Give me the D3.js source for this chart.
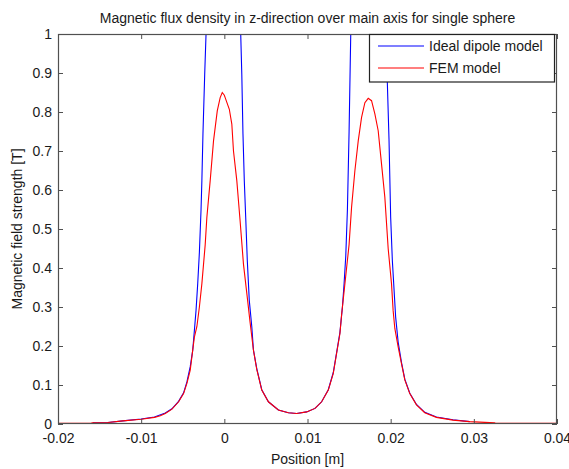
<!DOCTYPE html>
<html>
<head>
<meta charset="utf-8">
<script src="https://cdn.jsdelivr.net/npm/d3@7/dist/d3.min.js"></script>
<style>
  html, body { margin: 0; padding: 0; background: #fff; }
  svg { display: block; font-family: "Liberation Sans", Arial, sans-serif; }
</style>
</head>
<body>
<svg id="chart" width="569" height="469"></svg>
<script>
// Axis ticks and their labels
const xTicks = [-0.02, -0.01, 0, 0.01, 0.02, 0.03, 0.04];
const xTickLabels = ["-0.02", "-0.01", "0", "0.01", "0.02", "0.03", "0.04"];
const yTicks = [0, 0.1, 0.2, 0.3, 0.4, 0.5, 0.6, 0.7, 0.8, 0.9, 1];
const yTickLabels = ["0", "0.1", "0.2", "0.3", "0.4", "0.5", "0.6", "0.7", "0.8", "0.9", "1"];

// Ideal dipole model: position [m] and field [T]
const dipoleX = [-0.0158, -0.014, -0.0122, -0.010, -0.0084, -0.0071, -0.0063, -0.0055, -0.0049, -0.0045,
  -0.0041, -0.0038, -0.0036, -0.0034, -0.0032, -0.0030, -0.0028, -0.0027, -0.00257, -0.00236,
  -0.0022, -0.0018, 0.0016, 0.00197, 0.0021, 0.00224, 0.0024, 0.00257, 0.00276, 0.0030,
  0.0033, 0.0035, 0.0039, 0.0045, 0.0053, 0.0065, 0.0077, 0.0087, 0.0099, 0.0109,
  0.0117, 0.0125, 0.0131, 0.0135, 0.0139, 0.0142, 0.0144, 0.0146, 0.0148, 0.0150,
  0.0152, 0.0156, 0.0190, 0.0194, 0.0196, 0.0198, 0.0200, 0.0202, 0.0206, 0.0209,
  0.0213, 0.0217, 0.0223, 0.0231, 0.0241, 0.0255, 0.0275, 0.0295];
const dipoleY = [0.003, 0.004, 0.008, 0.013, 0.018, 0.028, 0.039, 0.058, 0.080, 0.108,
  0.147, 0.189, 0.240, 0.292, 0.360, 0.440, 0.550, 0.624, 0.744, 0.897,
  1.0, 1.8, 1.8, 1.0, 0.897, 0.744, 0.624, 0.530, 0.420, 0.317,
  0.250, 0.190, 0.142, 0.088, 0.057, 0.036, 0.029, 0.027, 0.031, 0.040,
  0.057, 0.088, 0.132, 0.183, 0.235, 0.300, 0.360, 0.430, 0.550, 0.750,
  1.0, 1.8, 1.8, 1.0, 0.875, 0.730, 0.530, 0.420, 0.274, 0.210,
  0.158, 0.115, 0.079, 0.050, 0.030, 0.018, 0.011, 0.006];

// FEM model: position [m] and field [T]
const femX = [-0.020, -0.016, -0.0159, -0.014, -0.0122, -0.010, -0.0084, -0.0077, -0.0071, -0.0063,
  -0.0055, -0.0049, -0.0045, -0.0041, -0.00385, -0.0036, -0.0033, -0.0030, -0.0027, -0.0023,
  -0.0021, -0.0017, -0.0013, -0.00085, -0.0005, -0.00025, 0.0000, 0.0001, 0.0006, 0.0009,
  0.0011, 0.0015, 0.0019, 0.0023, 0.0028, 0.0031, 0.0035, 0.0039, 0.0045, 0.0053,
  0.0065, 0.0077, 0.0087, 0.0099, 0.0109, 0.0117, 0.0125, 0.0131, 0.0135, 0.0139,
  0.0141, 0.0144, 0.0147, 0.0150, 0.0153, 0.0157, 0.0161, 0.0165, 0.0169, 0.0173,
  0.0177, 0.0181, 0.0185, 0.0189, 0.0193, 0.0197, 0.0201, 0.0203, 0.0205, 0.0209,
  0.0213, 0.0217, 0.0223, 0.0231, 0.0241, 0.0255, 0.0275, 0.0295, 0.0325, 0.0326, 0.040];
const femY = [0.002, 0.002, 0.003, 0.004, 0.008, 0.012, 0.017, 0.021, 0.027, 0.038,
  0.057, 0.078, 0.104, 0.138, 0.181, 0.223, 0.250, 0.300, 0.360, 0.460,
  0.530, 0.624, 0.726, 0.803, 0.837, 0.850, 0.843, 0.837, 0.807, 0.769,
  0.700, 0.624, 0.520, 0.410, 0.317, 0.260, 0.189, 0.140, 0.087, 0.057,
  0.036, 0.029, 0.027, 0.031, 0.040, 0.057, 0.087, 0.130, 0.181, 0.232,
  0.280, 0.340, 0.400, 0.460, 0.556, 0.650, 0.726, 0.786, 0.824, 0.835,
  0.829, 0.795, 0.752, 0.667, 0.581, 0.450, 0.360, 0.290, 0.245, 0.198,
  0.155, 0.113, 0.078, 0.049, 0.029, 0.017, 0.010, 0.006, 0.003, 0.002, 0.002];

const seriesNames = ["Ideal dipole model", "FEM model"];
const seriesColors = ["#0000ff", "#ff0000"];

const svg = d3.select("#chart");
const box = { left: 58, right: 557, top: 34, bottom: 424 };

const x = d3.scaleLinear().domain([-0.02, 0.04]).range([box.left, box.right]);
const y = d3.scaleLinear().domain([0, 1]).range([box.bottom, box.top]);

const axisColor = "#505050";
const textColor = "#1a1a1a";
const fontSize = 14;

// Clip the curves to the plotting box
svg.append("defs").append("clipPath").attr("id", "plot-clip")
  .append("rect")
  .attr("x", box.left).attr("y", box.top)
  .attr("width", box.right - box.left).attr("height", box.bottom - box.top);

const line = d3.line().x(d => x(d[0])).y(d => y(d[1]));

const dipole = dipoleX.map((v, i) => [v, dipoleY[i]]);
const fem = femX.map((v, i) => [v, femY[i]]);

const curves = svg.append("g").attr("clip-path", "url(#plot-clip)");
curves.append("path").datum(dipole)
  .attr("d", line).attr("fill", "none")
  .attr("stroke", seriesColors[0]).attr("stroke-width", 1.1);
curves.append("path").datum(fem)
  .attr("d", line).attr("fill", "none")
  .attr("stroke", seriesColors[1]).attr("stroke-width", 1.1);

// Axes with inward ticks on all four sides
function styleAxis(g) {
  g.selectAll(".domain").remove();
  g.selectAll(".tick line").attr("stroke", axisColor);
  g.selectAll(".tick text").attr("fill", textColor)
    .style("font-size", fontSize + "px")
    .style("font-family", "'Liberation Sans', Arial, sans-serif");
}

svg.append("g").attr("transform", `translate(0,${box.bottom})`)
  .call(d3.axisBottom(x).tickValues(xTicks).tickSize(-5).tickPadding(9)
    .tickFormat((d, i) => xTickLabels[i]))
  .call(styleAxis);
svg.append("g").attr("transform", `translate(0,${box.top})`)
  .call(d3.axisTop(x).tickValues(xTicks).tickSize(-5).tickFormat(""))
  .call(styleAxis);
svg.append("g").attr("transform", `translate(${box.left},0)`)
  .call(d3.axisLeft(y).tickValues(yTicks).tickSize(-5).tickPadding(6)
    .tickFormat((d, i) => yTickLabels[i]))
  .call(styleAxis);
svg.append("g").attr("transform", `translate(${box.right},0)`)
  .call(d3.axisRight(y).tickValues(yTicks).tickSize(-5).tickFormat(""))
  .call(styleAxis);

// Frame of the axes
svg.append("rect")
  .attr("x", box.left + 0.5).attr("y", box.top + 0.5)
  .attr("width", box.right - box.left - 1).attr("height", box.bottom - box.top - 1)
  .attr("fill", "none").attr("stroke", axisColor).attr("stroke-width", 1.2);

// Title and axis labels
svg.append("text")
  .attr("x", (box.left + box.right) / 2).attr("y", 23)
  .attr("text-anchor", "middle").attr("fill", textColor)
  .style("font-size", fontSize + "px")
  .text("Magnetic flux density in z-direction over main axis for single sphere");

svg.append("text")
  .attr("x", (box.left + box.right) / 2).attr("y", 464)
  .attr("text-anchor", "middle").attr("fill", textColor)
  .style("font-size", fontSize + "px")
  .text("Position [m]");

svg.append("text")
  .attr("transform", `translate(22,${(box.top + box.bottom) / 2}) rotate(-90)`)
  .attr("text-anchor", "middle").attr("fill", textColor)
  .style("font-size", fontSize + "px")
  .text("Magnetic field strength [T]");

// Legend
const legend = svg.append("g");
legend.append("rect")
  .attr("x", 369.5).attr("y", box.top + 0.5)
  .attr("width", 185).attr("height", 47.5)
  .attr("fill", "#fff").attr("stroke", "#222").attr("stroke-width", 1.2);
const legendRows = [46, 68];
seriesNames.forEach((name, i) => {
  legend.append("line")
    .attr("x1", 378).attr("x2", 424)
    .attr("y1", legendRows[i]).attr("y2", legendRows[i])
    .attr("stroke", seriesColors[i]).attr("stroke-width", 1.2);
  legend.append("text")
    .attr("x", 429).attr("y", legendRows[i] + 5)
    .attr("fill", textColor)
    .style("font-size", fontSize + "px")
    .text(name);
});
</script>
</body>
</html>
